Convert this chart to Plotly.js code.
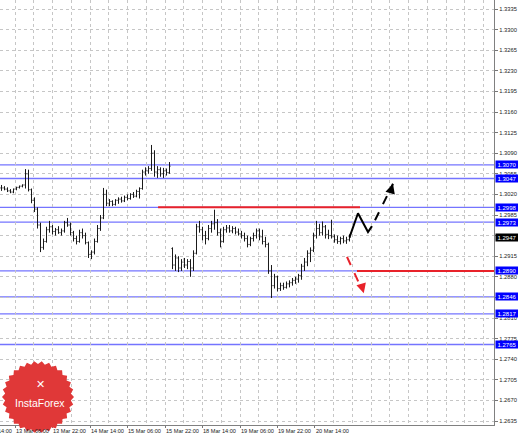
<!DOCTYPE html>
<html>
<head>
<meta charset="utf-8">
<script src="https://cdn.plot.ly/plotly-3.0.1.min.js"></script>
<style>html,body{margin:0;padding:0;background:#fff;}#chart{width:518px;height:437px;}</style>
</head>
<body>
<div id="chart"></div>
<script>
// ---- OHLC bars (EUR/USD) ----
const barOpen = [
1.3031,1.3031,1.3029,1.3026,1.3024,1.3029,1.3032,1.3034,1.3036,1.3055,
1.3028,1.3010,1.2995,1.2968,1.2930,1.2940,1.2960,1.2965,1.2957,1.2960,
1.2955,1.2958,1.2972,1.2968,1.2955,1.2945,1.2940,1.2955,1.2950,1.2938,
1.2918,1.2922,1.2940,1.2962,1.2980,1.3020,1.3005,1.3008,1.3003,1.3010,
1.3012,1.3009,1.3015,1.3013,1.3020,1.3017,1.3025,1.3030,1.3058,1.3060,
1.3064,1.3090,1.3058,1.3062,1.3055,1.3060,1.3057,
1.2928,1.2900,1.2912,1.2895,1.2905,1.2900,1.2906,1.2895,1.2920,1.2965,
1.2960,1.2950,1.2945,1.2962,1.2970,1.2972,1.2955,1.2940,1.2960,1.2963,
1.2958,1.2962,1.2956,1.2953,1.2950,1.2945,1.2935,1.2945,1.2950,1.2958,
1.2948,1.2940,1.2935,1.2890,1.2865,1.2880,1.2860,1.2865,1.2862,1.2868,
1.2870,1.2874,1.2876,1.2882,1.2898,1.2905,1.2920,1.2925,1.2950,1.2962,
1.2955,1.2965,1.2952,1.2950,1.2948,1.2943,1.2940,1.2945,1.2941,1.2943];
const barHigh = [
1.3036,1.3034,1.3032,1.3029,1.3030,1.3033,1.3035,1.3037,1.3063,1.3062,
1.3030,1.3015,1.2998,1.2972,1.2945,1.2965,1.2975,1.2968,1.2963,1.2966,
1.2962,1.2975,1.2980,1.2972,1.2958,1.2950,1.2960,1.2962,1.2955,1.2940,
1.2925,1.2945,1.2968,1.2985,1.3031,1.3028,1.3012,1.3010,1.3012,1.3015,
1.3016,1.3018,1.3020,1.3022,1.3024,1.3028,1.3032,1.3062,1.3066,1.3068,
1.3104,1.3095,1.3068,1.3066,1.3065,1.3064,1.3075,
1.2930,1.2918,1.2915,1.2910,1.2912,1.2910,1.2910,1.2925,1.2970,1.2975,
1.2965,1.2958,1.2968,1.2975,1.2994,1.2978,1.2962,1.2965,1.2968,1.2968,
1.2966,1.2965,1.2962,1.2958,1.2955,1.2950,1.2948,1.2955,1.2962,1.2962,
1.2960,1.2948,1.2938,1.2900,1.2885,1.2882,1.2870,1.2870,1.2872,1.2874,
1.2878,1.2880,1.2885,1.2902,1.2912,1.2925,1.2930,1.2955,1.2975,1.2970,
1.2974,1.2968,1.2960,1.2977,1.2952,1.2950,1.2948,1.2950,1.2948,1.2952];
const barLow = [
1.3026,1.3027,1.3024,1.3022,1.3022,1.3027,1.3030,1.3032,1.3030,1.3025,
1.3005,1.2990,1.2962,1.2922,1.2926,1.2938,1.2955,1.2952,1.2950,1.2953,
1.2950,1.2955,1.2965,1.2950,1.2940,1.2935,1.2938,1.2945,1.2935,1.2912,
1.2910,1.2918,1.2938,1.2958,1.2978,1.3000,1.3000,1.3000,1.3001,1.3004,
1.3006,1.3007,1.3010,1.3011,1.3014,1.3015,1.3013,1.3028,1.3052,1.3055,
1.3060,1.3050,1.3048,1.3050,1.3048,1.3052,1.3055,
1.2893,1.2890,1.2888,1.2890,1.2895,1.2893,1.2880,1.2890,1.2918,1.2955,
1.2942,1.2935,1.2942,1.2955,1.2960,1.2950,1.2930,1.2938,1.2955,1.2955,
1.2954,1.2952,1.2950,1.2945,1.2940,1.2930,1.2932,1.2940,1.2945,1.2942,
1.2935,1.2930,1.2885,1.2844,1.2860,1.2855,1.2856,1.2858,1.2860,1.2862,
1.2865,1.2868,1.2870,1.2875,1.2890,1.2898,1.2905,1.2922,1.2945,1.2950,
1.2950,1.2945,1.2944,1.2945,1.2938,1.2936,1.2935,1.2937,1.2936,1.2940];
const barClose = [
1.3031,1.3029,1.3026,1.3024,1.3029,1.3032,1.3034,1.3036,1.3055,1.3028,
1.3010,1.2995,1.2968,1.2930,1.2940,1.2960,1.2965,1.2957,1.2960,1.2955,
1.2958,1.2972,1.2968,1.2955,1.2945,1.2940,1.2955,1.2950,1.2938,1.2918,
1.2922,1.2940,1.2962,1.2980,1.3020,1.3005,1.3008,1.3003,1.3010,1.3012,
1.3009,1.3015,1.3013,1.3020,1.3017,1.3025,1.3030,1.3058,1.3060,1.3064,
1.3090,1.3058,1.3062,1.3055,1.3060,1.3057,1.3068,
1.2900,1.2912,1.2895,1.2905,1.2900,1.2906,1.2895,1.2920,1.2965,1.2960,
1.2950,1.2945,1.2962,1.2970,1.2972,1.2955,1.2940,1.2960,1.2963,1.2958,
1.2962,1.2956,1.2953,1.2950,1.2945,1.2935,1.2945,1.2950,1.2958,1.2948,
1.2940,1.2935,1.2890,1.2865,1.2880,1.2860,1.2865,1.2862,1.2868,1.2870,
1.2874,1.2876,1.2882,1.2898,1.2905,1.2920,1.2925,1.2950,1.2962,1.2955,
1.2965,1.2952,1.2950,1.2948,1.2943,1.2940,1.2945,1.2941,1.2943,1.2947];
const barIndex = barClose.map((_, i) => i);

// ---- levels ----
const blueLevels = [1.3070, 1.3047, 1.2998, 1.2973, 1.2890, 1.2846, 1.2817, 1.2765];
const blueLabels = ['1.3070','1.3047','1.2998','1.2973','1.2890','1.2846','1.2817','1.2765'];
const redLevelPrice = [1.2998, 1.2890];
const redLevelStart = [52.2, 118.5];
const redLevelEnd = [119.5, 164.2];
const lastPrice = 1.2947;
const lastPriceLabel = '1.2947';

// ---- forecast drawings ----
const upPathX = [116, 118.83, 122.17, 123.5];
const upPathY = [1.2947, 1.2988, 1.2956, 1.2966];
const upDashX = [124.5, 130.5];
const upDashY = [1.2976, 1.3038];
const downDashX = [115.17, 120.17];
const downDashY = [1.2914, 1.2858];

// ---- axis ticks (1.2950 and 1.2845 sit under the price boxes) ----
const yTickVals = [1.2635,1.2670,1.2705,1.2740,1.2775,1.2810,1.2845,1.2880,1.2915,1.2950,1.2985,1.3020,1.3055,1.3090,1.3125,1.3160,1.3195,1.3230,1.3265,1.3300,1.3335];
const yTickText = ['1.2635','1.2670','1.2705','1.2740','1.2775','1.2810','','1.2880','1.2915','','1.2985','1.3020','1.3055','1.3090','1.3125','1.3160','1.3195','1.3230','1.3265','1.3300','1.3335'];
const xTickVals = [-8, 4.5, 17, 29.5, 42, 54.5, 67, 79.5, 92, 104.5];
const xTickText = ['12 Mar 14:00','13 Mar 06:00','13 Mar 22:00','14 Mar 14:00','15 Mar 06:00','15 Mar 22:00','18 Mar 14:00','19 Mar 06:00','19 Mar 22:00','20 Mar 14:00'];

const PW = 494, PH = 425;
const XR = [-0.5, 164.17];
const gridC = '#c6c6c6';

const traces = [
  {type:'ohlc', x:barIndex, open:barOpen, high:barHigh, low:barLow, close:barClose,
   increasing:{line:{color:'#1a1a1a', width:1}}, decreasing:{line:{color:'#1a1a1a', width:1}},
   tickwidth:0.35, hoverinfo:'skip', showlegend:false},
  {type:'scatter', mode:'lines', x:upPathX, y:upPathY, line:{color:'#000', width:2}, hoverinfo:'skip', showlegend:false},
  {type:'scatter', mode:'lines', x:upDashX, y:upDashY, line:{color:'#000', width:2, dash:'dash'}, hoverinfo:'skip', showlegend:false},
  {type:'scatter', mode:'lines', x:downDashX, y:downDashY, line:{color:'#e8222a', width:2, dash:'dash'}, hoverinfo:'skip', showlegend:false}
];

const shapes = [];
blueLevels.forEach(v => shapes.push({type:'line', xref:'paper', x0:0, x1:1, yref:'y', y0:v, y1:v, line:{color:'#7474ff', width:1.3}, layer:'below'}));
redLevelPrice.forEach((v, k) => shapes.push({type:'line', xref:'x', x0:redLevelStart[k], x1:redLevelEnd[k], yref:'y', y0:v, y1:v, line:{color:'#e8222a', width:2}}));

// InstaForex badge (decoration)
(function(){
  const cx = 38, cy = 397, rO = 36, rI = 33, n = 30;
  let d = '';
  for (let k = 0; k < 2*n; k++) {
    const r = (k % 2 === 0) ? rO : rI;
    const a = Math.PI * k / n;
    const px = cx + r*Math.cos(a), py = cy + r*Math.sin(a);
    d += (k === 0 ? 'M' : 'L') + (px/PW).toFixed(5) + ',' + ((PH-py)/PH).toFixed(5);
  }
  d += 'Z';
  shapes.push({type:'path', xref:'paper', yref:'paper', path:d, fillcolor:'#e03838', line:{width:0}, layer:'above'});
})();

const annotations = [];
blueLevels.forEach((v, k) => annotations.push({xref:'paper', x:1, xanchor:'left', xshift:1, yref:'y', y:v, yanchor:'middle',
  text:blueLabels[k], showarrow:false, bgcolor:'#0000ff', font:{family:'Liberation Sans', size:6, color:'#fff'},
  width:22, height:7, borderpad:0, align:'center'}));
annotations.push({xref:'paper', x:1, xanchor:'left', xshift:1, yref:'y', y:lastPrice, yanchor:'middle',
  text:lastPriceLabel, showarrow:false, bgcolor:'#000', font:{family:'Liberation Sans', size:6, color:'#fff'},
  width:22, height:7, borderpad:0, align:'center'});
// time labels: left-aligned at their tick, drawn above the badge
xTickVals.forEach((v, k) => annotations.push({xref:'paper', x:(v - XR[0])/(XR[1]-XR[0]), xanchor:'left', xshift:-1,
  yref:'paper', y:0, yanchor:'top', yshift:-1,
  text:xTickText[k], showarrow:false, font:{family:'Liberation Sans', size:5.6, color:'#222'}}));
// arrowhead of up forecast
annotations.push({xref:'x', yref:'y', x:upDashX[1], y:upDashY[1], axref:'x', ayref:'y', ax:upDashX[1]-0.6, ay:upDashY[1]-0.001,
  text:'', showarrow:true, arrowhead:2, arrowsize:1.3, arrowwidth:1.5, arrowcolor:'#000'});
// arrowhead of down forecast
annotations.push({xref:'x', yref:'y', x:downDashX[1]+0.6, y:downDashY[1]-0.0006, axref:'x', ayref:'y', ax:downDashX[1]-0.4, ay:downDashY[1]+0.0012,
  text:'', showarrow:true, arrowhead:2, arrowsize:1.3, arrowwidth:1.5, arrowcolor:'#e8222a'});
// badge text
annotations.push({xref:'paper', yref:'paper', x:40/PW, y:(PH-403)/PH, xanchor:'center', yanchor:'middle',
  text:'InstaForex', showarrow:false, font:{family:'Liberation Sans', size:10.5, color:'#fff'}});
annotations.push({xref:'paper', yref:'paper', x:40/PW, y:(PH-384)/PH, xanchor:'center', yanchor:'middle',
  text:'✕', showarrow:false, font:{family:'DejaVu Sans', size:11, color:'#fff'}});

const layout = {
  width:518, height:437,
  margin:{l:0, r:24, t:0, b:12, pad:0},
  paper_bgcolor:'#fff', plot_bgcolor:'#fff',
  showlegend:false,
  xaxis:{range:XR, tickmode:'array', tickvals:xTickVals, showticklabels:false,
    ticks:'outside', ticklen:2, tickcolor:'#777',
    showgrid:true, gridcolor:gridC, griddash:'dot', gridwidth:1,
    minor:{tickmode:'linear', tick0:4.5, dtick:6.25, showgrid:true, gridcolor:gridC, griddash:'dot', gridwidth:1, ticks:''},
    showline:true, linecolor:'#808080', linewidth:1, zeroline:false, rangeslider:{visible:false}, fixedrange:true},
  yaxis:{range:[1.26282, 1.33503], side:'right', tickmode:'array', tickvals:yTickVals, ticktext:yTickText,
    ticks:'outside', ticklen:3, tickcolor:'#777', ticklabelstandoff:0,
    tickfont:{family:'Liberation Sans', size:5.8, color:'#222'},
    showgrid:true, gridcolor:gridC, griddash:'dot', gridwidth:1,
    showline:true, linecolor:'#808080', linewidth:1, zeroline:false, fixedrange:true},
  shapes:shapes, annotations:annotations
};

Plotly.newPlot('chart', traces, layout, {staticPlot:true, displayModeBar:false});
</script>
</body>
</html>
